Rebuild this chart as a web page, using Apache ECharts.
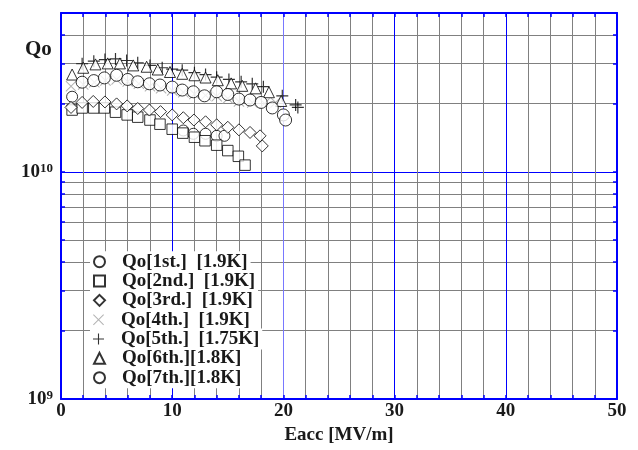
<!DOCTYPE html>
<html><head><meta charset="utf-8">
<script src="https://cdn.jsdelivr.net/npm/echarts@6/dist/echarts.min.js"></script>
<style>html,body{margin:0;padding:0;background:#fff}#c{width:638px;height:450px}</style>
</head><body><div id="c"></div>
<script>
// ---- data ----
const seriesNames = ['Qo[1st.]  [1.9K]','Qo[2nd.]  [1.9K]','Qo[3rd.]  [1.9K]','Qo[4th.]  [1.9K]','Qo[5th.]  [1.75K]','Qo[6th.][1.8K]','Qo[7th.][1.8K]'];
const E1 = [1.0, 11.0, 11.9, 13.0, 14.0, 14.7];
const Q1 = [2.14e10, 1.52e10, 1.47e10, 1.47e10, 1.44e10, 1.44e10];
const E2 = [1.0, 1.9, 2.95, 3.9, 4.9, 5.95, 6.9, 8.0, 8.9, 10.0, 10.95, 12.0, 12.95, 14.0, 15.0, 15.95, 16.55];
const Q2 = [1.87e10, 1.91e10, 1.91e10, 1.91e10, 1.83e10, 1.78e10, 1.74e10, 1.69e10, 1.62e10, 1.54e10, 1.48e10, 1.42e10, 1.37e10, 1.31e10, 1.24e10, 1.17e10, 1.07e10];
const E3 = [0.9, 1.9, 2.9, 3.95, 5.0, 5.95, 6.9, 7.95, 8.95, 10.0, 11.0, 11.95, 13.0, 14.0, 15.0, 16.0, 17.0, 17.9, 18.1];
const Q3 = [1.92e10, 2.02e10, 2.04e10, 2.03e10, 1.99e10, 1.95e10, 1.90e10, 1.87e10, 1.84e10, 1.78e10, 1.73e10, 1.69e10, 1.66e10, 1.61e10, 1.57e10, 1.53e10, 1.49e10, 1.44e10, 1.30e10];
const E4 = [0.9, 2.0, 3.0, 4.0, 5.0, 6.0, 7.0, 8.0, 9.0, 10.0, 11.0, 12.0, 13.0, 14.0, 15.0, 16.0, 17.2, 18.3, 19.3];
const Q4 = [2.38e10, 2.42e10, 2.48e10, 2.52e10, 2.55e10, 2.50e10, 2.44e10, 2.38e10, 2.33e10, 2.28e10, 2.24e10, 2.20e10, 2.17e10, 2.15e10, 2.10e10, 2.04e10, 2.02e10, 2.00e10, 2.02e10];
const E5 = [1.9, 2.95, 3.95, 4.9, 5.9, 6.9, 8.0, 9.1, 10.0, 10.9, 12.0, 13.0, 14.0, 15.1, 16.2, 17.2, 18.2, 19.9, 21.1, 21.3];
const Q5 = [2.99e10, 3.07e10, 3.12e10, 3.14e10, 3.09e10, 3.02e10, 2.94e10, 2.87e10, 2.83e10, 2.80e10, 2.73e10, 2.68e10, 2.61e10, 2.55e10, 2.49e10, 2.44e10, 2.37e10, 2.16e10, 1.97e10, 1.92e10];
const E6 = [1.0, 2.0, 3.1, 4.2, 5.3, 6.5, 7.7, 8.7, 9.8, 10.9, 12.0, 13.0, 14.1, 15.3, 16.3, 17.5, 18.7, 19.8];
const Q6 = [2.68e10, 2.87e10, 2.97e10, 3.00e10, 3.00e10, 2.94e10, 2.90e10, 2.82e10, 2.75e10, 2.70e10, 2.66e10, 2.60e10, 2.53e10, 2.45e10, 2.39e10, 2.33e10, 2.24e10, 2.05e10];
const E7 = [1.9, 2.95, 3.9, 5.0, 6.0, 6.9, 7.95, 8.9, 10.0, 10.9, 11.9, 12.9, 14.0, 15.0, 16.0, 17.0, 18.0, 19.0, 20.0, 20.2];
const Q7 = [2.48e10, 2.52e10, 2.59e10, 2.66e10, 2.55e10, 2.49e10, 2.44e10, 2.41e10, 2.36e10, 2.29e10, 2.25e10, 2.16e10, 2.25e10, 2.19e10, 2.09e10, 2.07e10, 2.02e10, 1.91e10, 1.78e10, 1.69e10];
const yGridValues = [1e9, 2e9, 3e9, 4e9, 5e9, 6e9, 7e9, 8e9, 9e9, 1e10, 2e10, 3e10, 4e10, 5e10];
const yLabelValues = [1e9, 1e10];
const xLabelValues = [0, 10, 20, 30, 40, 50];

// ---- style ----
const BLUE = '#0000ff', LIGHTBLUE = '#7878ff', GRAY = '#808080', TXT = '#1a1a1a';
const FONT = "'Liberation Serif','Times New Roman',serif";
const xMin = 0, xMax = 50, xStep = 2;
const xGridColors = [];
for (let v = xMin; v <= xMax; v += xStep) xGridColors.push(v === 20 ? LIGHTBLUE : (v % 10 === 0 ? BLUE : GRAY));
const yGridColors = yGridValues.map(v => v === 1e10 ? BLUE : GRAY);

const PLUS = 'path://M5.4,0H6.6V12H5.4ZM0,5.4H12V6.6H0Z';
const CROSS = 'path://M0,0.8L0.8,0L6,5.2L11.2,0L12,0.8L6.8,6L12,11.2L11.2,12L6,6.8L0.8,12L0,11.2L5.2,6Z';
const hollow = {color: '#fff', borderColor: '#000', borderWidth: 1};
const marks = [
  {E: E1, Q: Q1, symbol: 'circle', size: 11, style: hollow},
  {E: E2, Q: Q2, symbol: 'rect', size: 10.5, style: hollow},
  {E: E3, Q: Q3, symbol: 'diamond', size: 12, style: hollow},
  {E: E4, Q: Q4, symbol: CROSS, size: 11, style: {color: '#a0a0a0', borderWidth: 0}},
  {E: E5, Q: Q5, symbol: PLUS, size: 12, style: {color: '#000', borderWidth: 0}},
  {E: E6, Q: Q6, symbol: 'triangle', size: 11, style: hollow},
  {E: E7, Q: Q7, symbol: 'circle', size: 12, style: hollow}
];

const series = marks.map((m, i) => ({
  name: seriesNames[i], type: 'scatter', symbol: m.symbol, symbolSize: m.size,
  itemStyle: m.style, data: m.E.map((e, k) => [e, m.Q[k]]), z: 3 + i
}));

const textBold = {fontFamily: FONT, fontWeight: 'bold', fontSize: 19, color: TXT};
const legends = seriesNames.map((n, i) => ({
  data: [n], left: 90, top: 251.2 + i * 19.33, orient: 'horizontal',
  backgroundColor: '#fff', padding: [1, 3, 1, 3], itemWidth: 11, itemHeight: 11,
  selectedMode: false, textStyle: Object.assign({padding: [0, 0, 0, 12]}, textBold)
}));

const yLabelFmt = v => '{b|10}{s|' + Math.round(Math.log10(v)) + '}';
const yRich = {
  b: {fontFamily: FONT, fontWeight: 'bold', fontSize: 19, color: TXT},
  s: {fontFamily: FONT, fontWeight: 'bold', fontSize: 13, color: TXT, padding: [0, 0, 7, 0]}
};

const axisLine = {show: true, onZero: false, lineStyle: {color: BLUE, width: 2}};
const tick = {show: true, inside: true, length: 4, lineStyle: {color: BLUE, width: 1.5}};

const option = {
  animation: false,
  backgroundColor: '#fff',
  title: {text: 'Qo', left: 25, top: 39, padding: 0, textStyle: Object.assign({}, textBold, {fontSize: 21})},
  legend: legends,
  grid: {left: 61, right: 21, top: 13, bottom: 47},
  xAxis: [
    {type: 'value', min: xMin, max: xMax, interval: xStep, position: 'bottom',
     name: 'Eacc [MV/m]', nameLocation: 'middle', nameGap: 27, nameTextStyle: textBold,
     axisLine, axisTick: tick,
     axisLabel: Object.assign({customValues: xLabelValues, margin: 3}, textBold),
     splitLine: {show: true, lineStyle: {color: xGridColors, width: 1}}},
    {type: 'value', min: xMin, max: xMax, interval: xStep, position: 'top',
     axisLine, axisTick: tick, axisLabel: {show: false}, splitLine: {show: false}}
  ],
  yAxis: [
    {type: 'log', logBase: 10, min: 1e9, max: 5e10, position: 'left',
     axisLine, axisTick: Object.assign({customValues: yGridValues}, tick),
     axisLabel: {customValues: yLabelValues, formatter: yLabelFmt, rich: yRich, margin: 8},
     splitLine: {show: true, lineStyle: {color: yGridColors, width: 1}}},
    {type: 'log', logBase: 10, min: 1e9, max: 5e10, position: 'right',
     axisLine, axisTick: Object.assign({customValues: yGridValues}, tick),
     axisLabel: {show: false}, splitLine: {show: false}}
  ],
  series
};
const chart = echarts.init(document.getElementById('c'), null, {renderer: 'canvas'});
chart.setOption(option);
</script></body></html>
